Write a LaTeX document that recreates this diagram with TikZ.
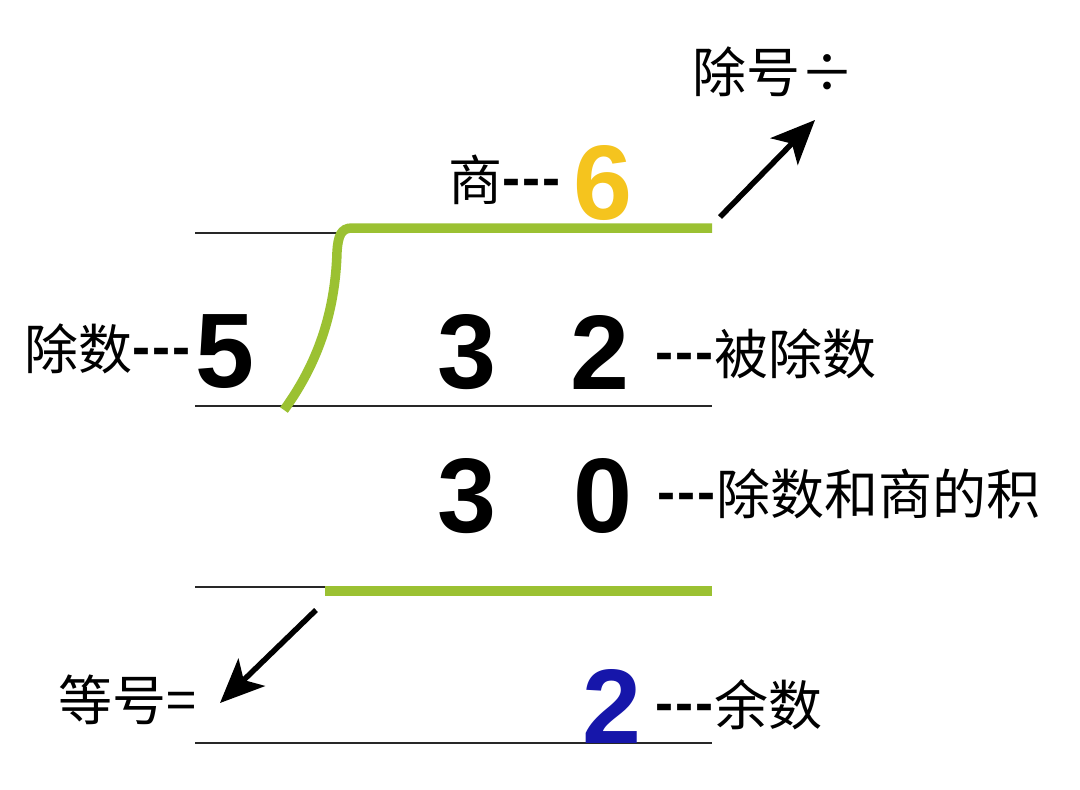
\documentclass[tikz,border=0pt]{standalone}
\usepackage{fontspec}
\usetikzlibrary{arrows.meta}
\newfontfamily\cjk{Noto Sans CJK SC}
\newfontfamily\numfont{Liberation Sans}
\definecolor{lgreen}{RGB}{155,193,50}
\definecolor{qyellow}{RGB}{245,196,30}
\definecolor{rblue}{RGB}{22,22,170}
\definecolor{rule}{RGB}{40,40,40}
\newcommand{\dsh}{{\numfont\bfseries\raisebox{4pt}{-\kern2pt-\kern2pt-}\kern1pt}}
\tikzset{
  digit/.style={inner sep=0pt, font=\numfont\bfseries\fontsize{106}{106}\selectfont},
  lbl/.style={inner sep=0pt, font=\cjk\fontsize{54}{54}\selectfont},
  thinrule/.style={draw=rule, line width=2.8pt},
  greenrule/.style={draw=lgreen, line width=9.5pt},
  pointer/.style={draw=black, line width=5.5pt, -{Stealth[length=44pt,width=38pt,inset=11pt]}}
}
\begin{document}
\begin{tikzpicture}[x=1pt,y=-1pt]
\useasboundingbox (0,0) rectangle (1080,790);
\fill[white] (0,0) rectangle (1080,790);
% rule coordinates
\coordinate (l1a) at (195,233);
\coordinate (l1b) at (345,233);
\coordinate (g1a) at (712,228);
\coordinate (g1b) at (352,228);
\coordinate (l2a) at (195,406);
\coordinate (l2b) at (712,406);
\coordinate (l3a) at (195,587);
\coordinate (l3b) at (325,587);
\coordinate (g3a) at (325,591);
\coordinate (g3b) at (712,591);
\coordinate (l4a) at (195,743);
\coordinate (l4b) at (712,743);
% rules
\draw[thinrule] (l1a) -- (l1b);
\draw[thinrule] (l2a) -- (l2b);
\draw[thinrule] (l3a) -- (l3b);
\draw[thinrule] (l4a) -- (l4b);
\draw[greenrule] (g3a) -- (g3b);
\draw[greenrule, line cap=butt] (g1a) -- (g1b) .. controls (341,228) and (338,236) .. (337,252)
   .. controls (335,320) and (313,370) .. (284,410);
% digits
\node[digit] (d5) at (225,352) {5};
\node[digit] (d3) at (467,352) {3};
\node[digit] (d2) at (600,352) {2};
\node[digit] (e3) at (467,496) {3};
\node[digit] (e0) at (603,496) {0};
\node[digit, text=rblue] (r2) at (612,706) {2};
\node[digit, text=qyellow] (q6) at (603,183) {6};
% labels
\node[lbl, anchor=east] (tq) at (562,180) {商\dsh};
\node[lbl, anchor=east] (tdivisor) at (192,349) {除数\dsh};
\node[lbl, anchor=west] (tdividend) at (655,354) {\dsh 被除数};
\node[lbl, anchor=west] (tprod) at (657,494) {\dsh 除数和商的积};
\node[lbl, anchor=west] (trem) at (655,705) {\dsh 余数};
\node[lbl, anchor=west] (teq) at (58,700) {等号=};
\node[lbl, anchor=west] (tdiv) at (692,72) {除号÷};
% arrows
\coordinate (a1s) at (720,217);
\coordinate (a1e) at (815,120);
\coordinate (a2s) at (316,610);
\coordinate (a2e) at (220,703);
\draw[pointer] (a1s) -- (a1e);
\draw[pointer] (a2s) -- (a2e);
\end{tikzpicture}
\end{document}
